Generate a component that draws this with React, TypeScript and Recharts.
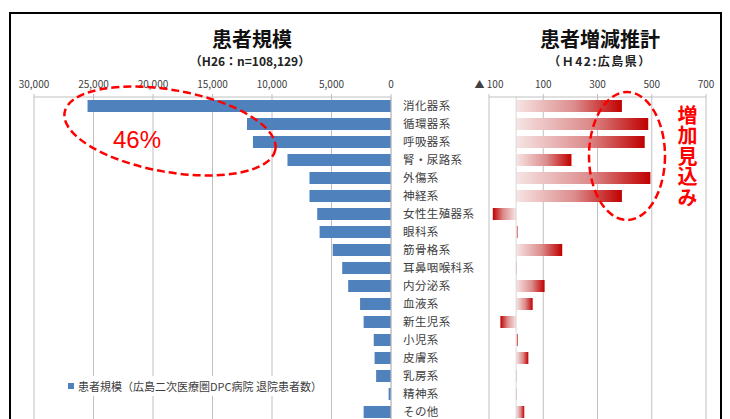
import React from 'react';
import { BarChart, Bar, XAxis, YAxis, CartesianGrid, Legend, ReferenceLine } from 'recharts';

// 疾患分類（MDC）
const CATEGORIES = [
  '消化器系', '循環器系', '呼吸器系', '腎・尿路系', '外傷系', '神経系',
  '女性生殖器系', '眼科系', '筋骨格系', '耳鼻咽喉科系', '内分泌系', '血液系',
  '新生児系', '小児系', '皮膚系', '乳房系', '精神系', 'その他',
];
// 患者規模（H26 退院患者数）
const PATIENTS = [
  25500, 12100, 11600, 8700, 6850, 6850,
  6200, 6000, 4900, 4100, 3600, 2600,
  2300, 1450, 1380, 1250, 200, 2300,
];
// 患者増減推計（H42）
const CHANGE = [
  390, 487, 474, 204, 495, 390,
  -86, 5, 170, 2, 105, 61,
  -58, 6, 45, 1, 3, 30,
];
const LEFT_TICKS = [0, 5000, 10000, 15000, 20000, 25000, 30000];
const RIGHT_TICKS = [-100, 100, 300, 500, 700];

const data = CATEGORIES.map((name, i) => ({ name, patients: PATIENTS[i], change: CHANGE[i] }));

const FONT = '"Noto Sans CJK JP", "Noto Sans", sans-serif';
const GRID = '#c0c0c0';
const TXT = '#404040';

const fmtLeft = (v: number) => v.toLocaleString('en-US');
const fmtRight = (v: number) => (v < 0 ? `▲ ${Math.abs(v)}` : String(v));

const CatTick = (p: any) => (
  <text x={p.x} y={p.y} dy={4} textAnchor="start" fontSize={11.5} fill={TXT} fontFamily={FONT} letterSpacing={0.4}>
    {p.payload.value}
  </text>
);

const GradBar = (p: any) => {
  const x = Math.min(p.x, p.x + p.width);
  const w = Math.abs(p.width);
  const neg = p.payload.change < 0;
  return <rect x={x} y={p.y} width={w} height={p.height} fill={neg ? 'url(#gNeg)' : 'url(#gPos)'} />;
};

const legendContent = () => (
  <div style={{ background: '#fff', padding: '2px 4px', fontSize: 11, color: TXT, fontFamily: FONT, display: 'flex', alignItems: 'center', whiteSpace: 'nowrap' }}>
    <span style={{ display: 'inline-block', width: 6, height: 6, background: '#4f81bd', marginRight: 4 }} />
    患者規模（広島二次医療圏DPC病院 退院患者数）
  </div>
);

export default function App() {
  return (
    <div style={{ position: 'absolute', left: 0, top: 0, width: 730, height: 419, overflow: 'hidden', background: '#fff', fontFamily: FONT }}>
      <svg width={0} height={0} style={{ position: 'absolute' }}>
        <defs>
          <linearGradient id="gPos" x1="0" y1="0" x2="1" y2="0">
            <stop offset="0%" stopColor="#f7e4e4" />
            <stop offset="55%" stopColor="#dc8c8c" />
            <stop offset="100%" stopColor="#c00000" />
          </linearGradient>
          <linearGradient id="gNeg" x1="1" y1="0" x2="0" y2="0">
            <stop offset="0%" stopColor="#f7e4e4" />
            <stop offset="55%" stopColor="#dc8c8c" />
            <stop offset="100%" stopColor="#c00000" />
          </linearGradient>
        </defs>
      </svg>

      {/* 外枠 */}
      <div style={{ position: 'absolute', left: 9, top: 12, width: 709, height: 430, border: '2px solid #000' }} />

      {/* タイトル */}
      <div style={{ position: 'absolute', left: 152, width: 200, top: 24, textAlign: 'center', fontSize: 20, fontWeight: 700, color: '#111' }}>患者規模</div>
      <div style={{ position: 'absolute', left: 150, width: 200, top: 52, textAlign: 'center', fontSize: 12, fontWeight: 700, color: '#222' }}>（H26：n=108,129）</div>
      <div style={{ position: 'absolute', left: 500, width: 200, top: 24, textAlign: 'center', fontSize: 20, fontWeight: 700, color: '#111' }}>患者増減推計</div>
      <div style={{ position: 'absolute', left: 500, width: 200, top: 52, textAlign: 'center', fontSize: 12, fontWeight: 700, color: '#222', letterSpacing: 1.5 }}>（Ｈ42:広島県）</div>

      {/* 左：患者規模 */}
      <div style={{ position: 'absolute', left: 0, top: 0 }}>
        <BarChart width={490} height={430} data={data} layout="vertical" barSize={12}
          margin={{ top: 77, right: 0, left: 34, bottom: 9 }}>
          <CartesianGrid vertical horizontal={false} stroke={GRID} />
          <XAxis type="number" orientation="top" reversed domain={[0, 30000]} ticks={LEFT_TICKS}
            tickFormatter={fmtLeft} height={20} tickSize={3} tickMargin={6}
            stroke={GRID} tick={{ fill: TXT, fontSize: 10, fontFamily: FONT }} interval={0} />
          <YAxis type="category" dataKey="name" orientation="right" width={99}
            tick={<CatTick />} tickLine={false} tickSize={0} tickMargin={12} stroke={GRID} interval={0} />
          <Legend content={legendContent} layout="vertical" align="center" verticalAlign="middle"
            wrapperStyle={{ position: 'absolute', left: 64, top: 376, width: 'auto' }} />
          <Bar dataKey="patients" fill="#4f81bd" isAnimationActive={false} />
        </BarChart>
      </div>

      {/* 右：患者増減推計 */}
      <div style={{ position: 'absolute', left: 0, top: 0 }}>
        <BarChart width={730} height={430} data={data} layout="vertical" barSize={12}
          margin={{ top: 77, right: 24, left: 489, bottom: 9 }}>
          <CartesianGrid vertical horizontal={false} stroke={GRID} />
          <XAxis type="number" orientation="top" domain={[-100, 700]} ticks={RIGHT_TICKS}
            tickFormatter={fmtRight} height={20} tickSize={3} tickMargin={6}
            stroke={GRID} tick={{ fill: TXT, fontSize: 10, fontFamily: FONT }} interval={0} />
          <YAxis type="category" dataKey="name" hide width={0} />
          <ReferenceLine x={0} stroke="#d9d9d9" />
          <Bar dataKey="change" shape={<GradBar />} isAnimationActive={false} />
        </BarChart>
      </div>

      {/* 注記 */}
      <svg width={730} height={419} style={{ position: 'absolute', left: 0, top: 0, pointerEvents: 'none' }}>
        <ellipse cx={170} cy={131} rx={107} ry={41} transform="rotate(10 170 131)"
          fill="none" stroke="#ff0000" strokeWidth={2.5} strokeDasharray="8 4" />
        <ellipse cx={627} cy={156} rx={38} ry={64}
          fill="none" stroke="#ff0000" strokeWidth={2.5} strokeDasharray="8 4" />
        <text x={113} y={148} fontSize={24} fill="#ff0000" fontFamily='"Liberation Sans", Arial, sans-serif'>46%</text>
      </svg>
      <div style={{ position: 'absolute', left: 677, top: 105, writingMode: 'vertical-rl', fontSize: 20, lineHeight: 1, fontWeight: 700, color: '#ff0000', letterSpacing: 0.5 }}>
        増加見込み
      </div>
    </div>
  );
}
